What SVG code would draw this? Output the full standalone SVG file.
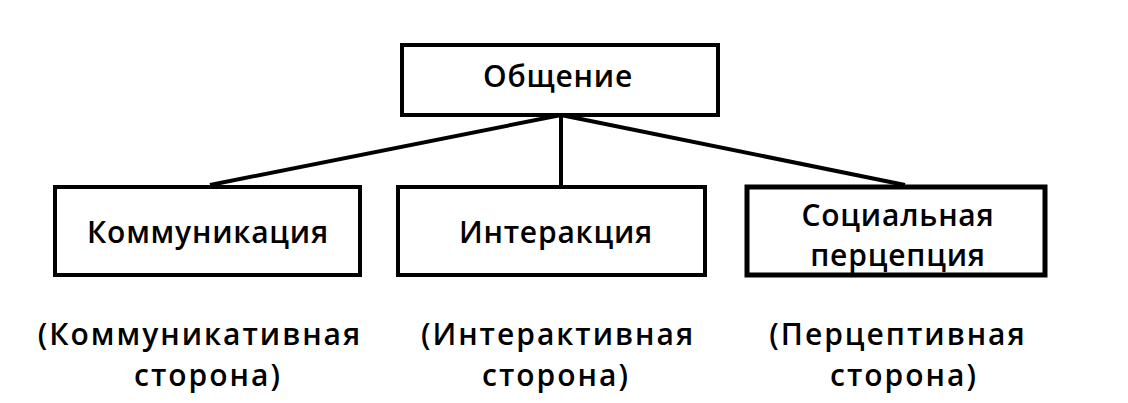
<svg xmlns="http://www.w3.org/2000/svg" width="1128" height="403" viewBox="0 0 1128 403">
<style>
.box{fill:#fff;stroke:#000;stroke-width:4}
.t{font-family:"Open Sans","DejaVu Sans",sans-serif;font-size:30px;font-weight:600;text-anchor:middle;fill:#000;letter-spacing:0.8px}
.b{letter-spacing:2px}
.c{stroke:#000;stroke-width:4;fill:none}
</style>
<rect width="1128" height="403" fill="#fff"/>
<g id="connectors">
<line class="c" x1="561" y1="115" x2="210" y2="185"/>
<line class="c" x1="561" y1="115" x2="561" y2="185"/>
<line class="c" x1="561" y1="115" x2="905" y2="185"/>
</g>
<g id="n0"><rect class="box" x="402" y="45" width="316" height="70"/><text class="t" x="558" y="87">Общение</text></g>
<g id="n1"><rect class="box" x="55" y="187" width="305" height="88"/><text class="t" x="208" y="243">Коммуникация</text></g>
<g id="n2"><rect class="box" x="398" y="187" width="307" height="88"/><text class="t" x="556" y="243">Интеракция</text></g>
<g id="n3"><rect class="box" x="747" y="187" width="298" height="88" style="stroke-width:5"/><text class="t" x="898" y="226">Социальная</text><text class="t" x="898" y="266">перцепция</text></g>
<g id="l1"><text class="t b" x="200" y="345">(Коммуникативная</text><text class="t b" x="208" y="386">сторона)</text></g>
<g id="l2"><text class="t b" x="558" y="345">(Интерактивная</text><text class="t b" x="556" y="386">сторона)</text></g>
<g id="l3"><text class="t b" x="898" y="345">(Перцептивная</text><text class="t b" x="904" y="386">сторона)</text></g>
</svg>
